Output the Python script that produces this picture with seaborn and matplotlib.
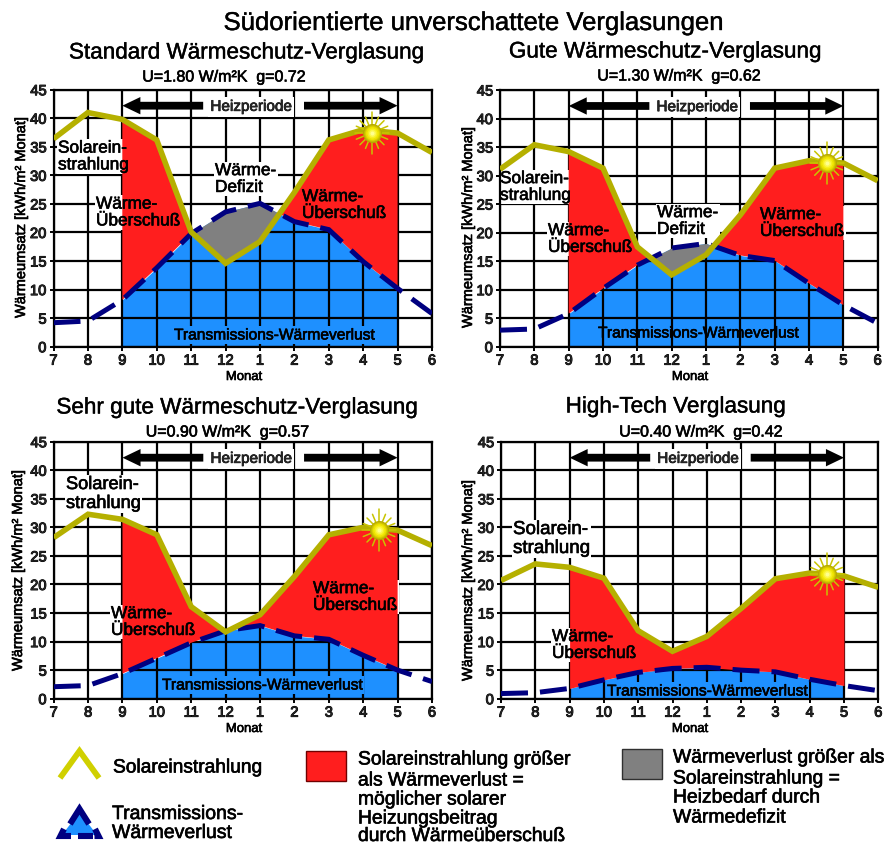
import matplotlib

matplotlib.use('Agg')
import matplotlib.pyplot as plt
import matplotlib.patheffects as pe
from matplotlib.lines import Line2D
from matplotlib.patches import Polygon, Rectangle
from matplotlib.transforms import Affine2D
import numpy as np
import pandas as pd
import seaborn as sns

months = ['7', '8', '9', '10', '11', '12', '1', '2', '3', '4', '5', '6']
y_ticks = [0, 5, 10, 15, 20, 25, 30, 35, 40, 45]

solar_standard = [36.4, 41, 39.8, 36.2, 20.1, 14.6, 18.4, 27, 36.2, 38, 37.4, 34]
loss_standard = [4.2, 4.5, 8.2, 13.8, 19.8, 23.6, 25.1, 21.9, 20.5, 14.9, 10.2, 5.8]
solar_gut = [31.1, 35.4, 34.2, 31.3, 17.5, 12.6, 16.1, 23.1, 31.3, 32.6, 32.2, 29.1]
loss_gut = [2.9, 3.1, 5.8, 10.2, 14.3, 17.3, 18.1, 16, 15.1, 11.1, 7.3, 4.1]
solar_sehr = [28.2, 32.3, 31.4, 28.7, 16.1, 11.7, 14.7, 21.4, 28.7, 30, 29.5, 26.8]
loss_sehr = [2.1, 2.3, 4.4, 7.1, 9.8, 11.9, 12.8, 11, 10.4, 7.6, 5, 3]
solar_high = [20.7, 23.6, 23, 21.1, 11.9, 8.3, 10.9, 15.8, 21, 22, 21.5, 19.5]
loss_high = [0.9, 1.05, 1.8, 3.3, 4.6, 5.3, 5.5, 5, 4.7, 3.4, 2.3, 1.4]

SOLAR = '#b5b000'
NAVY = '#000080'
RED = '#ff1e1e'
BLUE = '#1e90ff'
GRAY = '#808080'

sns.set_style('white')
plt.rcParams['font.family'] = ['Liberation Sans', 'DejaVu Sans']

W, H = 891, 847
fig = plt.figure(figsize=(W / 100, H / 100), dpi=100)
# pixel coordinates of the picture, y going down
px = Affine2D().scale(1, -1).translate(0, H)


def put(target, x, y, s, size, ha='left', stroke=0.45, **kw):
    t = target.text(x, y + 1, s, fontsize=size, ha=ha, va='center', color=kw.pop('color', 'black'),
                    transform=px, linespacing=1.15, **kw)
    t.set_path_effects([pe.withStroke(linewidth=stroke, foreground='black')])
    return t


def label(ax, x, y, s, size=12.4, back='white', zorder=6):
    # background sits under the red and grey fills, the letters on top of them
    ax.text(x, y + 1, s, fontsize=size, ha='left', va='center', color='none', transform=px, linespacing=1.15,
            bbox=dict(fc=back, ec='none', pad=1), zorder=1.7)
    put(ax, x, y, s, size, zorder=zorder)


def sun(ax, cx, cy):
    for i in range(16):
        a = np.pi / 8 * i
        long_ray = i % 8 == 4
        r = 21 if long_ray else 17
        ax.plot([cx + 8 * np.cos(a), cx + r * np.cos(a)], [cy + 8 * np.sin(a), cy + r * np.sin(a)],
                color='#c8c400', lw=1.1, transform=px, zorder=7, clip_on=False, scalex=False, scaley=False)
    for r, c in zip([9.5, 8.5, 7.5, 6.5, 5, 3.5, 2], ['#b5a800', '#c8bc00', '#dcd000', '#eee400', '#f8f020', '#fdf850', '#ffff90']):
        ax.scatter([cx], [cy], s=(2 * r * 0.72) ** 2, color=c, linewidths=0, transform=px, zorder=7, clip_on=False)


def panel(box, solar, loss):
    l, t, r, b = box
    ax = fig.add_axes([l / W, 1 - b / H, (r - l) / W, (b - t) / H])
    x = np.arange(len(months))
    df = pd.DataFrame({'x': x, 'solar': solar, 'loss': loss})
    season = df[(df.x >= 2) & (df.x <= 10)]

    ax.fill_between(season.x, 0, season.loss, color=BLUE, lw=0, zorder=1)
    ax.fill_between(season.x, season.loss, season.solar, where=season.solar >= season.loss,
                    interpolate=True, color=RED, lw=0, zorder=2)
    ax.fill_between(season.x, season.loss, season.solar, where=season.solar < season.loss,
                    interpolate=True, color=GRAY, lw=0, zorder=2)
    sns.lineplot(data=df, x='x', y='loss', ax=ax, color=NAVY, linewidth=3.6, zorder=3,
                 linestyle=(0, (5.4, 2.4)), dash_capstyle='butt', dash_joinstyle='miter')
    sns.lineplot(data=df, x='x', y='solar', ax=ax, color=SOLAR, linewidth=4.0, zorder=3.1,
                 solid_capstyle='butt', solid_joinstyle='miter')

    for tail, tip in [(4.35, 2), (7.28, 10)]:
        ax.annotate('', xy=(tip, 42.2), xytext=(tail, 42.2), zorder=5,
                    arrowprops=dict(width=5.6, headwidth=12.5, headlength=13, shrink=0, color='black', lw=0))
    t = ax.text(5.74, 42.0, 'Heizperiode', fontsize=11, ha='center', va='center', zorder=4,
                bbox=dict(fc='white', ec='none', pad=2))
    t.set_path_effects([pe.withStroke(linewidth=0.5, foreground='black')])

    ax.set_xlim(0, len(months) - 1)
    ax.set_ylim(0, 45)
    ax.set_xticks(x)
    ax.set_xticklabels(months)
    ax.set_yticks(y_ticks)
    ax.set_xlabel('')
    ax.set_ylabel('')
    ax.set_axisbelow('line')
    ax.grid(True, color='black', lw=1.6)
    ax.tick_params(axis='both', length=3, width=1.4, color='black', direction='out', pad=2,
                   labelsize=10.6, bottom=True, left=True)
    for lab in ax.get_xticklabels() + ax.get_yticklabels():
        lab.set_path_effects([pe.withStroke(linewidth=0.7, foreground='black')])
    for s in ax.spines.values():
        s.set_visible(True)
        s.set_color('black')
        s.set_linewidth(1.6)
    return ax


def panel_text(ax, title, title_x, title_y, sub, sub_x, sub_y, mon_x, mon_y, yl_x, yl_y):
    put(fig, title_x, title_y, title, 16.2, ha='center', stroke=0.3)
    put(fig, sub_x, sub_y, sub, 11.5, ha='center')
    put(fig, mon_x, mon_y, 'Monat', 9.4, ha='center')
    t = put(fig, yl_x, yl_y, 'Wärmeumsatz [kWh/m² Monat]', 10.5, ha='center', rotation=90)
    t.set_rotation_mode('anchor')


# Standard
ax = panel((53.5, 89.7, 432, 346.7), solar_standard, loss_standard)
panel_text(ax, 'Standard Wärmeschutz-Verglasung', 247, 52, 'U=1.80 W/m²K  g=0.72', 224, 76, 244, 376, 21, 216)
label(ax, 58, 155.5, 'Solarein-\nstrahlung')
label(ax, 96, 211.5, 'Wärme-\nÜberschuß')
label(ax, 215, 178, 'Wärme-\nDefizit')
label(ax, 302, 204, 'Wärme-\nÜberschuß')
label(ax, 174, 334, 'Transmissions-Wärmeverlust', 11.2, back=BLUE)
sun(ax, 372, 132.7)

# Gut
ax = panel((500, 90, 877.7, 346.7), solar_gut, loss_gut)
panel_text(ax, 'Gute Wärmeschutz-Verglasung', 665.5, 51, 'U=1.30 W/m²K  g=0.62', 679, 75, 690, 376, 468, 226)
label(ax, 500, 186, 'Solarein-\nstrahlung')
label(ax, 548, 238, 'Wärme-\nÜberschuß')
label(ax, 657, 220, 'Wärme-\nDefizit')
label(ax, 760, 222, 'Wärme-\nÜberschuß')
put(ax, 598, 332, 'Transmissions-Wärmeverlust', 11.2, zorder=1.2)
sun(ax, 826.7, 163.3)

# Sehr gut
ax = panel((53.7, 441.7, 432, 698.7), solar_sehr, loss_sehr)
panel_text(ax, 'Sehr gute Wärmeschutz-Verglasung', 237.5, 407, 'U=0.90 W/m²K  g=0.57', 227.5, 431, 244, 728, 18, 569)
label(ax, 66, 493, 'Solarein-\nstrahlung', 13.1)
label(ax, 111, 621, 'Wärme-\nÜberschuß')
label(ax, 313, 596, 'Wärme-\nÜberschuß')
label(ax, 162, 684, 'Transmissions-Wärmeverlust', 11.2, back=BLUE)
sun(ax, 379, 530)

# High-Tech
ax = panel((501, 441.7, 878.3, 698.7), solar_high, loss_high)
panel_text(ax, 'High-Tech Verglasung', 676, 406, 'U=0.40 W/m²K  g=0.42', 701, 431, 690, 728, 468, 579)
label(ax, 513, 538, 'Solarein-\nstrahlung', 13.5)
label(ax, 552, 644, 'Wärme-\nÜberschuß')
label(ax, 607, 690, 'Transmissions-Wärmeverlust', 11.2, back=BLUE)
sun(ax, 826.7, 574)

put(fig, 474, 22, 'Südorientierte unverschattete Verglasungen', 18.5, ha='center', stroke=0.3)

# legend, drawn by hand as in the original
fig.add_artist(Line2D([60, 79.5, 99], [778, 751, 778], color='#d0d000', lw=4.2, transform=px,
                      solid_joinstyle='miter', solid_capstyle='butt'))
fig.add_artist(Polygon([[79.5, 812], [62, 835], [97, 835]], fc=BLUE, ec='none', transform=px))
for xs, ys in [([70, 79.5, 89], [824, 809, 824]),
               ([64, 60.5, 71], [829, 836, 836]),
               ([78, 92.5], [836, 836]),
               ([95, 98.5, 94.5], [829, 836, 836])]:
    fig.add_artist(Line2D(xs, ys, color=NAVY, lw=4.4, transform=px,
                          solid_joinstyle='miter', solid_capstyle='butt'))
fig.add_artist(Rectangle((306, 751), 40, 30, fc=RED, ec='#700000', lw=1, transform=px))
fig.add_artist(Rectangle((622, 749), 40, 30, fc=GRAY, ec='#303030', lw=1, transform=px))

put(fig, 113, 767, 'Solareinstrahlung', 13.8)
put(fig, 112, 823, 'Transmissions-\nWärmeverlust', 14)
for yy, s in zip([759, 780, 799, 818, 835.5],
                 ['Solareinstrahlung größer', 'als Wärmeverlust =', 'möglicher solarer', 'Heizungsbeitrag', 'durch Wärmeüberschuß']):
    put(fig, 358, yy, s, 13.9)
for yy, s in zip([757, 778, 797, 817],
                 ['Wärmeverlust größer als', 'Solareinstrahlung =', 'Heizbedarf durch', 'Wärmedefizit']):
    put(fig, 673, yy, s, 13.9)

fig.savefig('out.png', dpi=100)
plt.close(fig)
